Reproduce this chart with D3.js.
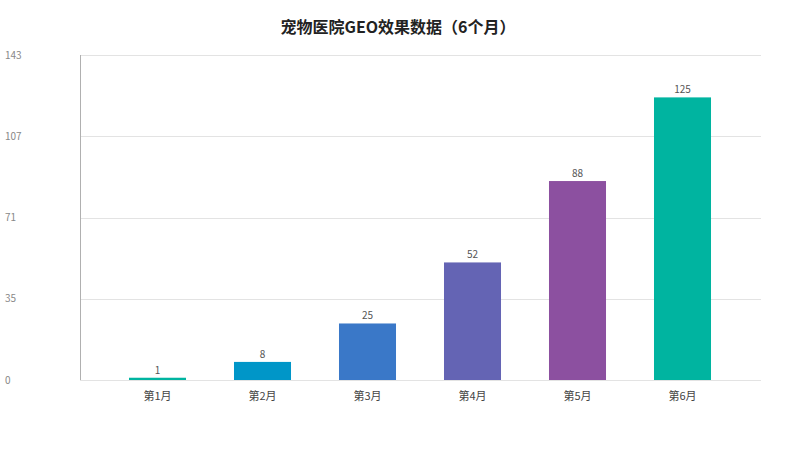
<!DOCTYPE html>
<html>
<head>
<meta charset="utf-8">
<script src="https://cdn.jsdelivr.net/npm/d3@7/dist/d3.min.js"></script>
<style>
  html, body { margin: 0; padding: 0; background: #fff; }
  svg { display: block; font-family: "Noto Sans CJK SC", "Noto Sans", sans-serif; }
</style>
</head>
<body>
<svg id="chart"></svg>
<script>
const title = "宠物医院GEO效果数据（6个月）";
const months = ["第1月", "第2月", "第3月", "第4月", "第5月", "第6月"];
const values = [1, 8, 25, 52, 88, 125];
const barColors = ["#00b4a0", "#0096c8", "#3a78c8", "#6464b4", "#8c50a0", "#00b4a0"];
const yTickLabels = [0, 35, 71, 107, 143];
const yMax = 143.75;

const width = 800;
const height = 450;
const plot = { left: 80, right: 761, top: 55, bottom: 380 };

const svg = d3.select("#chart")
  .attr("width", width)
  .attr("height", height);

const x = d3.scaleBand()
  .domain(months)
  .range([105, 735])
  .paddingInner(0.457)
  .paddingOuter(0.2285);

const y = d3.scaleLinear()
  .domain([0, yMax])
  .range([plot.bottom, plot.top]);

// ticks sit at quarters of the max, labels are the rounded-down values
const ticks = yTickLabels.map((label, i) => ({
  label: label,
  value: (yMax * i) / (yTickLabels.length - 1)
}));

// gridlines
svg.append("g")
  .selectAll("line")
  .data(ticks)
  .enter()
  .append("line")
  .attr("x1", plot.left)
  .attr("x2", plot.right)
  .attr("y1", (d) => Math.round(y(d.value)) + 0.5)
  .attr("y2", (d) => Math.round(y(d.value)) + 0.5)
  .attr("stroke", "#e3e3e3")
  .attr("stroke-width", 1);

// y axis line
svg.append("line")
  .attr("x1", plot.left + 0.5)
  .attr("x2", plot.left + 0.5)
  .attr("y1", plot.top)
  .attr("y2", plot.bottom)
  .attr("stroke", "#b0b0b0");

// y tick labels
svg.append("g")
  .selectAll("text")
  .data(ticks)
  .enter()
  .append("text")
  .attr("x", 5)
  .attr("y", (d) => y(d.value) + 1)
  .attr("dominant-baseline", "middle")
  .attr("font-size", "10px")
  .attr("fill", "#888")
  .text((d) => d.label);

// bars
svg.append("g")
  .selectAll("rect")
  .data(values)
  .enter()
  .append("rect")
  .attr("x", (d, i) => x(months[i]))
  .attr("y", (d) => y(d))
  .attr("width", x.bandwidth())
  .attr("height", (d) => y(0) - y(d))
  .attr("fill", (d, i) => barColors[i]);

// value labels
svg.append("g")
  .selectAll("text")
  .data(values)
  .enter()
  .append("text")
  .attr("x", (d, i) => x(months[i]) + x.bandwidth() / 2)
  .attr("y", (d) => y(d) - 4)
  .attr("text-anchor", "middle")
  .attr("font-size", "10px")
  .attr("fill", "#555")
  .text((d) => d);

// category labels
svg.append("g")
  .selectAll("text")
  .data(months)
  .enter()
  .append("text")
  .attr("x", (d) => x(d) + x.bandwidth() / 2)
  .attr("y", 400)
  .attr("text-anchor", "middle")
  .attr("font-size", "11px")
  .attr("fill", "#444")
  .text((d) => d);

// title
svg.append("text")
  .attr("x", 398)
  .attr("y", 33)
  .attr("text-anchor", "middle")
  .attr("font-size", "16px")
  .attr("font-weight", "bold")
  .attr("fill", "#222")
  .text(title);
</script>
</body>
</html>
